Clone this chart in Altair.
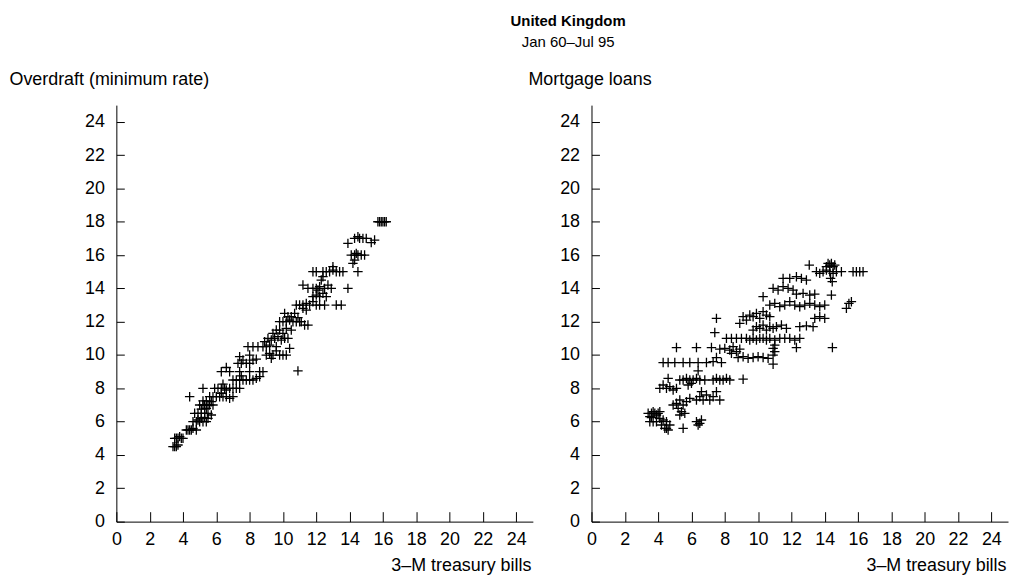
import altair as alt
import pandas as pd

# ---------------- data ----------------
# Left panel: overdraft (minimum rate) vs 3-M treasury bills
left_x = [3.4, 3.5, 3.6, 3.7,
          3.5, 3.6, 3.7, 3.8, 3.9, 4.0,
          4.2, 4.3, 4.4, 4.5, 4.6, 4.8,
          4.6, 4.8, 4.9, 5.0, 5.1, 5.2, 5.3, 5.4, 5.5, 4.7, 4.9, 5.1, 5.3, 5.5, 5.7,
          5.0, 5.1, 5.2, 5.3, 5.4, 5.5, 5.6, 5.7, 5.8, 5.2, 5.4,
          4.4, 5.6, 5.8, 6.0, 6.2, 6.4, 6.6, 6.8, 7.0, 6.3,
          5.2, 5.9, 6.1, 6.3, 6.5, 6.6, 6.8, 7.0, 7.2, 7.4, 6.4,
          7.0, 7.2, 7.4, 7.6, 7.8, 8.0, 8.2, 8.4, 8.6, 7.5,
          6.3, 6.8, 7.4, 8.0, 8.6, 8.8, 6.6, 10.9,
          7.3, 7.5, 7.6, 7.8, 8.0, 8.2, 8.4, 7.4, 8.0,
          9.0, 9.2, 9.4, 9.6, 9.8, 10.0, 10.2, 9.3,
          7.9, 8.2, 8.5, 8.8, 9.0, 9.2, 9.6, 10.4,
          8.9, 9.1, 9.3, 9.5, 9.7, 9.9, 10.1, 10.3, 9.4, 9.6, 9.8, 10.0, 10.2, 10.5,
          9.8, 10.0, 10.2, 10.4, 10.6, 10.8, 11.0, 10.3, 10.5, 10.7, 10.9, 11.1, 11.3, 11.5, 10.1,
          10.8, 11.0, 11.2, 11.4, 11.6, 11.8, 12.0, 12.2, 12.5, 13.2, 13.5, 11.2, 11.4,
          11.8, 12.0, 12.2, 12.4, 12.6, 12.1,
          11.2, 11.5, 11.8, 12.0, 12.2, 12.5, 12.7, 12.9, 13.9, 12.3,
          11.8, 12.0, 12.4, 12.6, 12.8, 13.0, 13.2, 13.4, 13.6, 14.5, 13.0, 12.4,
          14.2, 14.3, 14.1, 14.3, 14.4, 14.5, 14.7, 14.9,
          13.9, 15.3, 15.5,
          14.3, 14.5, 14.6, 14.8, 15.0,
          15.7, 15.8, 15.9, 16.0, 16.1, 16.2]
left_y = [4.5, 4.5, 4.5, 4.6,
          5.0, 5.0, 5.0, 5.1, 5.0, 5.0,
          5.5, 5.5, 5.5, 5.5, 5.6, 5.5,
          6.0, 6.0, 6.1, 6.0, 6.2, 6.0, 6.25, 6.0, 6.2, 6.5, 6.5, 6.5, 6.5, 6.5, 6.4,
          7.0, 6.75, 7.0, 7.0, 6.8, 7.0, 7.0, 7.2, 7.0, 7.25, 7.25,
          7.5, 7.5, 7.5, 7.5, 7.5, 7.5, 7.5, 7.4, 7.5, 7.7,
          8.0, 8.0, 8.0, 8.0, 8.0, 7.9, 8.0, 8.0, 8.0, 8.0, 8.25,
          8.5, 8.5, 8.5, 8.5, 8.5, 8.5, 8.5, 8.6, 8.7, 8.75,
          9.0, 9.0, 9.0, 9.0, 9.0, 9.0, 9.25, 9.05,
          9.5, 9.5, 9.7, 9.5, 9.5, 9.7, 9.75, 9.9, 10.0,
          10.0, 10.1, 10.0, 10.25, 10.0, 10.0, 10.0, 9.8,
          10.5, 10.5, 10.5, 10.5, 10.5, 10.6, 10.5, 10.4,
          10.8, 11.0, 10.9, 11.0, 11.1, 10.9, 11.0, 11.0, 11.3, 11.5, 11.5, 11.3, 11.6, 11.5,
          12.0, 12.0, 12.0, 12.1, 12.0, 12.0, 12.0, 12.3, 12.3, 12.5, 12.25, 12.0, 11.8, 11.8, 12.5,
          13.0, 13.0, 13.0, 13.1, 13.0, 13.2, 13.0, 13.0, 13.0, 13.0, 13.0, 12.8, 12.7,
          13.5, 13.6, 13.5, 13.7, 13.5, 13.9,
          14.2, 14.0, 14.0, 14.0, 14.1, 14.0, 14.2, 14.0, 14.0, 14.5,
          15.0, 15.0, 15.0, 15.0, 15.0, 15.1, 15.0, 15.0, 15.0, 15.0, 15.3, 14.7,
          15.5, 15.7, 16.0, 16.0, 16.1, 16.0, 16.0, 16.0,
          16.7, 16.75, 16.9,
          17.0, 17.1, 17.0, 17.0, 17.0,
          18.0, 18.0, 18.0, 18.0, 18.0, 18.0]

# Right panel: mortgage loans vs 3-M treasury bills
right_x = [3.4, 3.5, 3.6, 3.7, 3.8, 3.9, 4.0, 4.1, 3.5, 3.7, 3.9, 4.1, 3.6,
           4.2, 4.4, 4.5, 4.6, 4.3, 4.7, 4.5,
           5.5, 6.3, 6.5, 6.6, 6.4,
           4.9, 5.1, 5.3, 5.5, 5.7, 5.9, 5.2, 5.4, 5.6, 5.3,
           6.3, 6.5, 6.7, 6.9, 7.1, 7.3, 7.5, 7.7, 6.6,
           4.1, 4.3, 4.5, 4.7, 4.9, 5.1, 4.6,
           5.3, 5.5, 5.7, 5.9, 6.1, 6.3, 6.5, 6.8, 7.3, 7.5, 7.7, 7.9, 8.1, 8.3, 9.1, 5.8, 6.0,
           6.4,
           4.3, 4.6, 5.0, 5.5, 5.9, 6.4, 6.9, 7.3, 7.8, 7.5,
           5.1, 6.3, 7.2, 7.7, 8.0, 8.3, 8.5, 8.7, 8.9, 8.4,
           8.8, 9.1, 9.4, 9.7, 10.0, 10.3, 10.6, 10.9, 11.0, 10.9,
           8.1, 8.4, 8.7, 9.0, 9.3, 7.4,
           9.5, 9.7, 9.9, 10.1, 10.3, 10.5, 10.7, 11.0, 11.3, 11.6, 11.9, 12.2, 12.5, 10.9, 11.0, 12.3, 14.46,
           7.5, 8.9, 9.1, 9.3, 9.5, 9.7, 9.9, 10.1, 10.3, 10.5, 10.7,
           9.7, 9.9, 10.1, 10.3, 10.5, 10.7, 10.9, 11.1, 11.4, 11.7, 12.5, 12.9, 13.3,
           13.4, 13.7, 14.0,
           15.3, 15.45, 15.6,
           10.3, 10.7, 11.0, 11.3, 11.6, 11.9, 12.2, 12.5, 12.8, 13.1, 13.4, 13.7, 14.0,
           10.9, 11.2, 11.5, 11.8, 12.1,
           12.3, 12.7, 13.1, 13.4, 14.4,
           11.5, 11.9, 12.3, 12.6, 12.9,
           13.07, 13.5, 13.7, 13.9, 14.1, 14.3, 14.5, 14.7, 15.0,
           14.1, 14.2, 14.3, 14.4, 14.5, 14.6,
           14.35, 14.45,
           15.7, 15.9, 16.1, 16.3]
right_y = [6.5, 6.3, 6.5, 6.6, 6.5, 6.4, 6.5, 6.6, 6.0, 6.0, 6.0, 6.2, 6.25,
           5.8, 5.6, 6.0, 5.5, 6.1, 5.8, 5.6,
           5.6, 6.0, 5.9, 6.1, 5.8,
           7.0, 7.1, 7.3, 7.0, 7.2, 7.4, 6.8, 6.6, 6.5, 6.4,
           7.3, 7.5, 7.3, 7.6, 7.3, 7.5, 7.8, 7.3, 7.8,
           8.0, 8.2, 8.0, 8.1, 7.9, 8.0, 8.6,
           8.5, 8.5, 8.6, 8.5, 8.5, 8.6, 8.5, 8.5, 8.5, 8.6, 8.5, 8.5, 8.6, 8.5, 8.55, 8.2, 8.3,
           9.05,
           9.55, 9.55, 9.55, 9.55, 9.55, 9.55, 9.55, 9.6, 9.55, 9.85,
           10.45, 10.45, 10.45, 10.35, 10.4, 10.3, 10.5, 10.2, 10.35, 10.1,
           9.85, 9.9, 9.8, 9.85, 9.9, 9.85, 9.8, 10.0, 10.2, 9.45,
           11.0, 11.0, 11.0, 11.0, 11.0, 11.35,
           10.9, 11.0, 10.9, 11.0, 11.0, 10.9, 11.0, 10.9, 11.0, 11.0, 11.0, 10.9, 11.0, 10.4, 10.6, 10.45, 10.45,
           12.2, 11.9, 12.3, 12.1, 12.4, 12.3, 12.5, 12.2, 12.6, 12.4, 12.3,
           11.5, 11.7, 11.6, 11.8, 11.5, 11.7, 11.6, 11.7, 11.8, 11.6, 11.7, 11.75, 11.7,
           12.2, 12.3, 12.2,
           12.8, 13.1, 13.2,
           13.5, 13.0, 13.1, 12.9, 13.0, 13.2, 13.0, 12.9, 13.0, 13.1, 13.0, 12.9, 13.0,
           14.0, 13.9, 14.1, 14.0, 13.9,
           13.65, 13.7, 13.6, 13.65, 13.6,
           14.6, 14.6, 14.7, 14.6, 14.5,
           15.4, 15.0, 14.9, 15.0, 15.1, 15.0, 14.9, 15.0, 15.0,
           15.3, 15.5, 15.4, 15.5, 15.3, 15.4,
           14.6, 14.4,
           15.0, 15.0, 15.0, 15.0]

tick_values = [0, 2, 4, 6, 8, 10, 12, 14, 16, 18, 20, 22, 24]
x_title = "3\u2013M treasury bills"
left_title = "Overdraft (minimum rate)"
right_title = "Mortgage loans"
main_title = "United Kingdom"
sub_title = "Jan 60\u2013Jul 95"

FONT = "Liberation Sans"
W = 419
H = 419
LABEL_SIZE = 18
CROSS = "M-1,0L1,0M0,-1L0,1"


def panel(xs, ys, ytitle, ytitle_x):
    df = pd.DataFrame({"x": xs, "y": ys})
    ticks_df = pd.DataFrame({"t": tick_values})
    sx = alt.Scale(domain=[0, 25], nice=False, zero=False)
    sy = alt.Scale(domain=[0, 25], nice=False, zero=False)

    pts = alt.Chart(df).mark_point(
        shape=CROSS, size=90, filled=False, stroke="black",
        strokeWidth=1.3, opacity=1
    ).encode(
        x=alt.X("x:Q", scale=sx, axis=alt.Axis(
            orient="bottom", values=tick_values, ticks=False, grid=False,
            labelPadding=9, labelFontSize=LABEL_SIZE, labelFont=FONT,
            labelColor="black", labelFlush=False,
            domainColor="black", domainWidth=1,
            title=x_title, titleX=W - 2, titleY=44, titleAlign="right",
            titleBaseline="middle", titleFont=FONT, titleFontSize=LABEL_SIZE,
            titleFontWeight="normal", titleColor="black")),
        y=alt.Y("y:Q", scale=sy, axis=alt.Axis(
            orient="left", values=tick_values, ticks=False, grid=False,
            labelPadding=12, labelFontSize=LABEL_SIZE, labelFont=FONT,
            labelColor="black", labelFlush=False,
            domainColor="black", domainWidth=1,
            title=ytitle, titleAngle=0, titleX=ytitle_x, titleY=-26,
            titleAlign="left", titleBaseline="middle", titleFont=FONT,
            titleFontSize=LABEL_SIZE, titleFontWeight="normal",
            titleColor="black")),
    )

    inner = alt.Chart(ticks_df).mark_point(opacity=0).encode(
        x=alt.X("t:Q", scale=sx, axis=alt.Axis(
            orient="top", offset=-H, values=tick_values, labels=False,
            domain=False, ticks=True, tickSize=10, tickColor="black",
            tickWidth=1, grid=False, title=None)),
        y=alt.Y("t:Q", scale=sy, axis=alt.Axis(
            orient="right", offset=-W, values=tick_values, labels=False,
            domain=False, ticks=True, tickSize=8, tickColor="black",
            tickWidth=1, grid=False, title=None)),
    )

    return alt.layer(pts, inner).resolve_axis(
        x="independent", y="independent"
    ).properties(width=W, height=H)


left = panel(left_x, left_y, left_title, -108)
right = panel(right_x, right_y, right_title, -64)

chart = alt.hconcat(left, right, spacing=59, bounds="flush").properties(
    title=alt.TitleParams(
        text=main_title, subtitle=sub_title, anchor="middle", dx=60,
        font=FONT, fontSize=15, fontWeight="bold", color="black",
        subtitleFont=FONT, subtitleFontSize=15, subtitleColor="black",
        subtitlePadding=6, offset=20),
    padding={"left": 0, "top": 4, "right": 0, "bottom": 0},
    background="white",
).configure_view(stroke="transparent")

chart.save("out.html", embed_options={"renderer": "svg", "actions": False})
